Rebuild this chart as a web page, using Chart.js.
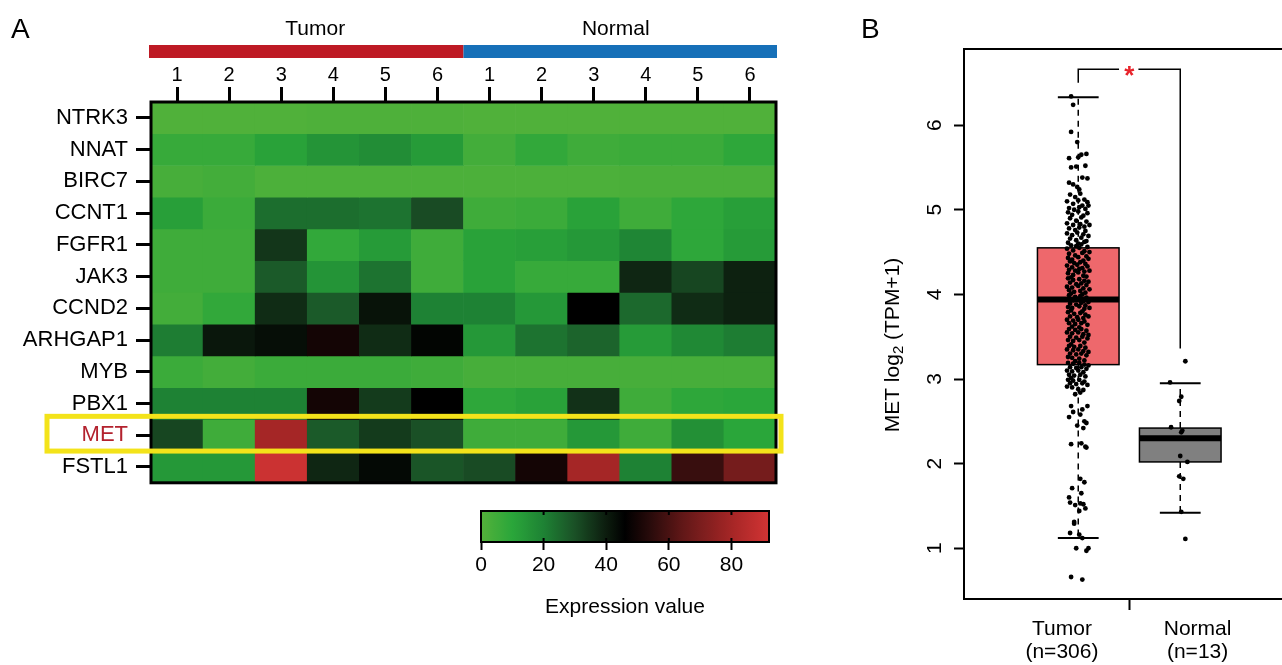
<!DOCTYPE html>
<html>
<head>
<meta charset="utf-8">
<script src="https://cdn.jsdelivr.net/npm/chart.js@4/dist/chart.umd.min.js"></script>
<style>
    html, body { margin: 0; padding: 0; background: #fff; overflow: hidden; width: 1282px; height: 665px; }
    canvas { position: absolute; }
</style>
</head>
<body>
<canvas id="heatmap" width="800" height="504" style="left:0;top:0"></canvas>
<canvas id="colorbar" width="360" height="130" style="left:440px;top:490px"></canvas>
<canvas id="boxplot" width="450" height="665" style="left:850px;top:0"></canvas>
<script>
// ---- Panel A data ----
var geneNames = ['NTRK3', 'NNAT', 'BIRC7', 'CCNT1', 'FGFR1', 'JAK3', 'CCND2', 'ARHGAP1', 'MYB', 'PBX1', 'MET', 'FSTL1'];
var sampleLabels = ['1', '2', '3', '4', '5', '6', '1', '2', '3', '4', '5', '6'];
var groupNames = ['Tumor', 'Normal'];
// expression value per gene (rows) and sample (T1..T6, N1..N6)
var exprNTRK3   = [1, 1, 1, 1.5, 1.5, 1.5, 1, 1, 1, 1, 1, 1];
var exprNNAT    = [7, 7, 11, 15, 17, 13, 4, 8, 5, 6, 6, 9];
var exprBIRC7   = [3, 4, 2, 2, 2, 2, 2, 2, 2, 2.5, 2.5, 2.5];
var exprCCNT1   = [12, 6, 24, 24, 23, 31, 5, 6, 11, 5, 9, 12];
var exprFGFR1   = [5, 5, 35, 8, 13, 5, 11, 12, 14, 19, 9, 13];
var exprJAK3    = [5, 5, 28, 15, 23, 5, 11, 7, 7, 38, 32, 39];
var exprCCND2   = [4, 8, 37, 28, 42, 20, 20, 14, 46, 25, 37, 39];
var exprARHGAP1 = [21, 41, 43, 50, 37, 45, 14, 23, 26, 13, 18, 21];
var exprMYB     = [6, 4, 6, 6, 6, 5, 3, 3, 3, 3, 3, 3];
var exprPBX1    = [20, 20, 20, 50, 34, 46, 9, 11, 36, 5, 9, 10];
var exprMET     = [32, 5, 80, 28, 34, 30, 5, 5, 14, 5, 16, 10];
var exprFSTL1   = [14, 14, 90, 38, 44, 29, 31, 50, 80, 20, 57, 69];
var colorbarMax = 92;
var colorbarStep = 20;

// ---- Panel B data ----
var boxGroups = ['Tumor', 'Normal'];
var boxCounts = [306, 13];
var boxQ1 = [3.17, 2.02];
var boxMedian = [3.94, 2.30];
var boxQ3 = [4.55, 2.42];
var boxLower = [1.12, 1.42];
var boxUpper = [6.33, 2.95];
var yTickValues = [1, 2, 3, 4, 5, 6];
// jittered points: [x offset, value]
var tumorPoints = [
    [-0.07,6.34],[-0.05,6.24],[-0.07,5.92],[-0.01,5.80],[-0.09,5.61],[0.00,5.62],[0.03,5.65],[0.08,5.66],
    [-0.07,5.50],[-0.02,5.51],[0.07,5.52],[0.09,5.37],[-0.09,5.32],[-0.05,5.30],[-0.01,5.27],[0.01,5.24],[0.04,5.38],
    [-0.08,5.18],[-0.03,5.15],[0.02,5.19],[0.06,5.12],[-0.11,5.10],[-0.05,5.07],[0.00,5.11],[0.04,5.05],[0.09,5.09],
    [-0.09,5.02],[-0.04,5.00],[0.01,5.03],[0.07,5.01],[0.10,5.05],
    [-0.10,4.97],[-0.06,4.94],[0.00,4.98],[0.05,4.93],[0.09,4.96],[-0.08,4.90],[-0.02,4.87],[0.03,4.91],[0.08,4.86],
    [-0.11,4.84],[-0.05,4.82],[0.02,4.83],[0.06,4.80],[0.11,4.82],
    [-0.09,4.78],[-0.03,4.76],[0.01,4.79],[0.07,4.75],[-0.11,4.72],[-0.06,4.70],[-0.01,4.73],[0.05,4.71],[0.10,4.69],
    [-0.08,4.66],[-0.02,4.64],[0.03,4.67],[0.08,4.63],[-0.10,4.61],[0.00,4.60],[0.06,4.62],
    [-0.07,4.58],[-0.02,4.57],[0.03,4.59],[0.09,4.56],[-0.11,4.54],[-0.05,4.52],[0.01,4.55],[0.06,4.51],[0.11,4.50],
    [-0.09,4.48],[-0.03,4.46],[0.04,4.49],[0.08,4.45],[-0.10,4.43],[-0.06,4.41],[0.00,4.44],[0.05,4.40],[0.10,4.42],
    [-0.08,4.39],[-0.04,4.37],[0.02,4.38],[0.07,4.36],[-0.11,4.34],[-0.06,4.32],[-0.01,4.35],[0.04,4.31],[0.09,4.33],
    [-0.09,4.29],[-0.03,4.28],[0.01,4.30],[0.06,4.27],[0.11,4.28],[-0.10,4.25],[-0.05,4.23],[0.00,4.26],[0.05,4.22],
    [0.08,4.21],[-0.07,4.20],
    [-0.10,4.19],[-0.05,4.17],[0.01,4.18],[0.06,4.16],[0.10,4.15],[-0.08,4.14],[-0.02,4.12],[0.03,4.13],[0.08,4.11],
    [-0.11,4.09],[-0.06,4.08],[0.00,4.10],[0.05,4.07],[0.11,4.06],[-0.09,4.05],[-0.04,4.03],[0.02,4.04],[0.07,4.02],
    [-0.07,4.01],[0.04,4.00],
    [-0.09,3.99],[-0.03,3.97],[0.02,3.98],[0.08,3.96],[-0.11,3.94],[-0.05,3.93],[0.00,3.95],[0.05,3.92],[0.10,3.91],
    [-0.08,3.89],[-0.02,3.88],[0.03,3.90],[0.07,3.87],[-0.10,3.85],[-0.06,3.84],[0.01,3.86],[0.06,3.83],[0.11,3.84],
    [-0.07,3.81],[0.04,3.80],
    [-0.10,3.79],[-0.04,3.77],[0.02,3.78],[0.07,3.76],[-0.08,3.74],[-0.01,3.73],[0.05,3.72],[0.10,3.74],[-0.11,3.70],
    [-0.05,3.69],[0.00,3.70],[0.06,3.68],[-0.09,3.66],[-0.03,3.65],[0.03,3.66],[0.09,3.64],[-0.06,3.62],[0.01,3.61],
    [-0.09,3.59],[-0.03,3.58],[0.03,3.59],[0.08,3.57],[-0.11,3.55],[-0.06,3.54],[0.00,3.55],[0.05,3.53],[0.10,3.52],
    [-0.08,3.50],[-0.02,3.49],[0.04,3.50],[0.09,3.48],[-0.10,3.46],[-0.05,3.45],[0.01,3.46],[0.06,3.43],[-0.07,3.41],
    [-0.09,3.39],[-0.04,3.38],[0.02,3.39],[0.07,3.37],[-0.11,3.35],[-0.05,3.34],[0.00,3.35],[0.05,3.33],[0.10,3.32],
    [-0.08,3.30],[-0.02,3.29],[0.03,3.30],[0.08,3.28],[-0.10,3.26],[-0.06,3.25],[0.01,3.24],[0.06,3.22],[-0.03,3.21],
    [-0.10,3.19],[-0.05,3.18],[0.01,3.19],[0.06,3.17],[0.10,3.16],[-0.08,3.14],[-0.02,3.13],[0.03,3.14],[0.08,3.12],
    [-0.11,3.10],[-0.06,3.09],[0.00,3.10],[0.05,3.08],[-0.09,3.05],[-0.04,3.04],[0.02,3.05],[0.07,3.03],[-0.07,3.01],
    [-0.10,2.99],[-0.05,2.98],[0.01,2.99],[0.06,2.97],[-0.08,2.95],[-0.02,2.94],[0.04,2.95],[0.09,2.93],[-0.11,2.91],
    [-0.06,2.90],[0.00,2.88],[0.05,2.87],[0.02,2.84],[-0.03,2.82],
    [-0.07,2.68],[0.09,2.68],[-0.05,2.61],[0.02,2.58],[0.06,2.50],[0.08,2.48],[-0.01,2.45],[-0.09,2.55],[0.05,2.42],[0.04,2.64],
    [-0.07,2.23],[0.03,2.24],[0.08,2.19],[0.07,2.20],
    [0.02,1.82],[0.06,1.78],[-0.06,1.71],[0.03,1.65],[-0.09,1.60],[-0.08,1.54],[-0.03,1.51],[0.02,1.53],[0.05,1.52],
    [0.07,1.47],[0.01,1.44],[-0.04,1.31],[-0.04,1.29],[-0.08,1.18],[0.01,1.16],[0.04,1.12],[-0.02,1.00],[0.08,0.97],
    [0.10,1.00],[-0.07,0.66],[0.04,0.63]
];
var normalPoints = [
    [0.05,3.21],[-0.10,2.96],[0.01,2.79],[-0.01,2.74],[-0.09,2.43],[0.02,2.39],[0.01,2.37],
    [0.00,2.09],[0.07,2.02],[-0.01,1.85],[0.03,1.82],[0.01,1.43],[0.05,1.11]
];
var bracketY = 6.66;

(function() {
    'use strict';

    var FONT = "'Liberation Sans', Arial, Helvetica, sans-serif";
    Chart.defaults.font.family = FONT;
    Chart.defaults.color = '#000';

    // green -> black -> red palette of the heatmap
    var colorStops = [
        [0, [84, 178, 58]], [10, [42, 166, 58]], [20, [30, 130, 52]], [30, [26, 80, 38]],
        [40, [12, 28, 14]], [46, [0, 0, 0]], [55, [45, 12, 12]], [65, [100, 24, 24]],
        [80, [165, 38, 38]], [92, [210, 52, 52]]
    ];

    var Figure = {
        init: function() {
            this.initHeatmap();
            this.initColorBar();
            this.initBoxplot();
        },

        exprColor: function(v) {
            for (var i = 1; i < colorStops.length; i++) {
                if (v <= colorStops[i][0] || i === colorStops.length - 1) {
                    var a = colorStops[i - 1], b = colorStops[i];
                    var t = Math.max(0, Math.min(1, (v - a[0]) / (b[0] - a[0])));
                    var c = [0, 1, 2].map(function(k) { return Math.round(a[1][k] + (b[1][k] - a[1][k]) * t); });
                    return 'rgb(' + c.join(',') + ')';
                }
            }
        },

        /**
         * Panel A: heatmap as floating bars, one dataset per gene row
         */
        initHeatmap: function() {
            var self = this;
            var rows = [exprNTRK3, exprNNAT, exprBIRC7, exprCCNT1, exprFGFR1, exprJAK3,
                        exprCCND2, exprARHGAP1, exprMYB, exprPBX1, exprMET, exprFSTL1];

            var datasets = rows.map(function(vals, r) {
                return {
                    label: geneNames[r],
                    data: vals.map(function() { return [r, r + 1]; }),
                    backgroundColor: vals.map(function(v) { return self.exprColor(v); }),
                    borderWidth: 0,
                    barPercentage: 1,
                    categoryPercentage: 1,
                    grouped: false
                };
            });

            var deco = {
                id: 'heatDeco',
                afterDraw: function(chart) {
                    var ctx = chart.ctx, a = chart.chartArea;
                    var xs = chart.scales.x, ys = chart.scales.y;
                    var mid = (xs.getPixelForValue(5) + xs.getPixelForValue(6)) / 2;
                    ctx.save();
                    // frame
                    ctx.strokeStyle = '#000';
                    ctx.lineWidth = 3;
                    ctx.strokeRect(a.left, a.top, a.right - a.left, a.bottom - a.top);
                    // group bars
                    ctx.fillStyle = '#be1a24';
                    ctx.fillRect(a.left - 2, 45, mid - a.left + 2, 13);
                    ctx.fillStyle = '#1670b8';
                    ctx.fillRect(mid, 45, a.right - mid + 1, 13);
                    ctx.fillStyle = '#000';
                    ctx.font = '21px ' + FONT;
                    ctx.textAlign = 'center';
                    ctx.textBaseline = 'middle';
                    ctx.fillText(groupNames[0], (a.left + mid) / 2 + 8, 29);
                    ctx.fillText(groupNames[1], (mid + a.right) / 2 - 4, 29);
                    // highlight MET row
                    var r = geneNames.indexOf('MET');
                    var top = ys.getPixelForValue(r), bot = ys.getPixelForValue(r + 1);
                    ctx.strokeStyle = '#f3e31a';
                    ctx.lineWidth = 5;
                    ctx.strokeRect(47, top - 3, a.right + 5 - 47, bot - top + 3);
                    // panel letter
                    ctx.font = '28px ' + FONT;
                    ctx.textAlign = 'left';
                    ctx.textBaseline = 'alphabetic';
                    ctx.fillText('A', 11, 38);
                    ctx.restore();
                }
            };

            new Chart(document.getElementById('heatmap'), {
                type: 'bar',
                data: { labels: sampleLabels, datasets: datasets },
                plugins: [deco],
                options: {
                    responsive: false,
                    animation: false,
                    layout: { padding: { left: 0, top: 0, right: 24, bottom: 0 } },
                    plugins: { legend: { display: false }, tooltip: { enabled: false } },
                    scales: {
                        x: {
                            position: 'top',
                            grid: { offset: false, drawOnChartArea: false, tickLength: 15, tickWidth: 3, tickColor: '#000' },
                            border: { display: false },
                            ticks: { font: { size: 20 }, color: '#000', padding: 0, maxRotation: 0, autoSkip: false },
                            afterFit: function(s) { s.height = 102; }
                        },
                        y: {
                            type: 'linear',
                            reverse: true,
                            min: 0,
                            max: geneNames.length,
                            afterBuildTicks: function(s) {
                                s.ticks = geneNames.map(function(g, i) { return { value: i + 0.5 }; });
                            },
                            grid: { drawOnChartArea: false, tickLength: 15, tickWidth: 3, tickColor: '#000' },
                            border: { display: false },
                            ticks: {
                                autoSkip: false,
                                padding: 8,
                                font: { size: 22 },
                                color: function(c) {
                                    return c.tick && geneNames[Math.floor(c.tick.value)] === 'MET' ? '#b3222e' : '#000';
                                },
                                callback: function(v) { return geneNames[Math.floor(v)]; }
                            },
                            afterFit: function(s) { s.width = 151; }
                        }
                    }
                }
            });
        },

        /**
         * Colour key under the heatmap
         */
        initColorBar: function() {
            var self = this;
            var grad = {
                id: 'gradient',
                beforeDatasetsDraw: function(chart) {
                    var ctx = chart.ctx, a = chart.chartArea, xs = chart.scales.x;
                    var g = ctx.createLinearGradient(a.left, 0, a.right, 0);
                    for (var v = 0; v <= colorbarMax; v += 2) {
                        g.addColorStop(v / colorbarMax, self.exprColor(v));
                    }
                    ctx.save();
                    ctx.fillStyle = g;
                    ctx.fillRect(a.left, a.top, a.right - a.left, a.bottom - a.top);
                    ctx.strokeStyle = '#000';
                    ctx.lineWidth = 2;
                    xs.ticks.forEach(function(t) {
                        var px = xs.getPixelForValue(t.value);
                        ctx.beginPath();
                        ctx.moveTo(px, a.top); ctx.lineTo(px, a.top + 4);
                        ctx.moveTo(px, a.bottom); ctx.lineTo(px, a.bottom - 4);
                        ctx.stroke();
                    });
                    ctx.strokeRect(a.left, a.top, a.right - a.left, a.bottom - a.top);
                    ctx.restore();
                }
            };

            new Chart(document.getElementById('colorbar'), {
                type: 'scatter',
                data: { datasets: [{ data: [] }] },
                plugins: [grad],
                options: {
                    responsive: false,
                    animation: false,
                    layout: { padding: { left: 41, right: 31, top: 21, bottom: 0 } },
                    plugins: { legend: { display: false }, tooltip: { enabled: false } },
                    scales: {
                        x: {
                            type: 'linear',
                            min: 0,
                            max: colorbarMax,
                            ticks: { stepSize: colorbarStep, includeBounds: false, font: { size: 21 }, color: '#000', padding: 3 },
                            grid: { drawOnChartArea: false, tickLength: 8, tickWidth: 2, tickColor: '#000' },
                            border: { display: false },
                            title: { display: true, text: 'Expression value', font: { size: 21 }, color: '#000', padding: { top: 7, bottom: 0 } },
                            afterFit: function(s) { s.height = 78; }
                        },
                        y: { display: false, min: 0, max: 1 }
                    }
                }
            });
        },

        /**
         * Panel B: box plot with jittered samples
         */
        initBoxplot: function() {
            var boxFill = ['rgb(238,104,108)', 'rgb(128,128,128)'];

            var boxes = {
                id: 'boxes',
                beforeDatasetsDraw: function(chart) {
                    var ctx = chart.ctx, xs = chart.scales.x, ys = chart.scales.y;
                    ctx.save();
                    ctx.strokeStyle = '#000';
                    boxGroups.forEach(function(g, i) {
                        var pos = i + 1;
                        var cx = xs.getPixelForValue(pos);
                        var bl = xs.getPixelForValue(pos - 0.4), br = xs.getPixelForValue(pos + 0.4);
                        var cl = xs.getPixelForValue(pos - 0.2), cr = xs.getPixelForValue(pos + 0.2);
                        var q1 = ys.getPixelForValue(boxQ1[i]), q3 = ys.getPixelForValue(boxQ3[i]);
                        var md = ys.getPixelForValue(boxMedian[i]);
                        var lo = ys.getPixelForValue(boxLower[i]), hi = ys.getPixelForValue(boxUpper[i]);
                        // whiskers
                        ctx.lineWidth = 1.5;
                        ctx.setLineDash([6, 5]);
                        ctx.beginPath();
                        ctx.moveTo(cx, q3); ctx.lineTo(cx, hi);
                        ctx.moveTo(cx, q1); ctx.lineTo(cx, lo);
                        ctx.stroke();
                        ctx.setLineDash([]);
                        ctx.lineWidth = 2;
                        ctx.beginPath();
                        ctx.moveTo(cl, hi); ctx.lineTo(cr, hi);
                        ctx.moveTo(cl, lo); ctx.lineTo(cr, lo);
                        ctx.stroke();
                        // box
                        ctx.fillStyle = boxFill[i];
                        ctx.fillRect(bl, q3, br - bl, q1 - q3);
                        ctx.lineWidth = 1.5;
                        ctx.strokeRect(bl, q3, br - bl, q1 - q3);
                        ctx.lineWidth = 6;
                        ctx.beginPath();
                        ctx.moveTo(bl, md); ctx.lineTo(br, md);
                        ctx.stroke();
                    });
                    ctx.restore();
                },
                afterDraw: function(chart) {
                    var ctx = chart.ctx, a = chart.chartArea, xs = chart.scales.x, ys = chart.scales.y;
                    ctx.save();
                    ctx.strokeStyle = '#000';
                    ctx.lineWidth = 2;
                    ctx.strokeRect(a.left, a.top, a.right - a.left + 20, a.bottom - a.top);
                    // significance bracket
                    var by = ys.getPixelForValue(bracketY);
                    ctx.lineWidth = 1.5;
                    ctx.beginPath();
                    ctx.moveTo(xs.getPixelForValue(1), ys.getPixelForValue(6.5));
                    ctx.lineTo(xs.getPixelForValue(1), by);
                    ctx.lineTo(xs.getPixelForValue(1.4), by);
                    ctx.moveTo(xs.getPixelForValue(1.59), by);
                    ctx.lineTo(xs.getPixelForValue(2), by);
                    ctx.lineTo(xs.getPixelForValue(2), ys.getPixelForValue(3.36));
                    ctx.stroke();
                    ctx.fillStyle = '#e8232a';
                    ctx.font = 'bold 26px ' + FONT;
                    ctx.textAlign = 'center';
                    ctx.textBaseline = 'middle';
                    ctx.fillText('*', xs.getPixelForValue(1.5), by + 8);
                    // axis title with subscript
                    ctx.fillStyle = '#000';
                    ctx.translate(43, 345);
                    ctx.rotate(-Math.PI / 2);
                    var big = '21px ' + FONT, small = '15px ' + FONT;
                    ctx.font = big;
                    var p1 = 'MET log', p3 = ' (TPM+1)';
                    var w1 = ctx.measureText(p1).width, w3 = ctx.measureText(p3).width;
                    ctx.font = small;
                    var w2 = ctx.measureText('2').width;
                    var x0 = -(w1 + w2 + w3) / 2;
                    ctx.textAlign = 'left';
                    ctx.font = big;
                    ctx.fillText(p1, x0, 0);
                    ctx.font = small;
                    ctx.fillText('2', x0 + w1, 6);
                    ctx.font = big;
                    ctx.fillText(p3, x0 + w1 + w2, 0);
                    ctx.restore();
                    // panel letter
                    ctx.save();
                    ctx.fillStyle = '#000';
                    ctx.font = '28px ' + FONT;
                    ctx.fillText('B', 11, 38);
                    ctx.restore();
                }
            };

            var xTicks = [0.84, 1.5, 2.17];

            new Chart(document.getElementById('boxplot'), {
                type: 'scatter',
                data: {
                    datasets: [
                        { data: tumorPoints.map(function(p) { return { x: 1 + p[0], y: p[1] }; }) },
                        { data: normalPoints.map(function(p) { return { x: 2 + p[0], y: p[1] }; }) }
                    ]
                },
                plugins: [boxes],
                options: {
                    responsive: false,
                    animation: false,
                    layout: { padding: { left: 0, top: 49, right: 5, bottom: 0 } },
                    elements: { point: { radius: 2.4, backgroundColor: '#000', borderWidth: 0 } },
                    plugins: { legend: { display: false }, tooltip: { enabled: false } },
                    scales: {
                        x: {
                            type: 'linear',
                            min: -0.12,
                            max: 3.125,
                            afterBuildTicks: function(s) {
                                s.ticks = xTicks.map(function(v) { return { value: v }; });
                            },
                            ticks: {
                                autoSkip: false,
                                maxRotation: 0,
                                font: { size: 21, lineHeight: 1.1 },
                                color: '#000',
                                padding: 8,
                                callback: function(v, i) {
                                    if (i === 0) return [boxGroups[0], '(n=' + boxCounts[0] + ')'];
                                    if (i === 2) return [boxGroups[1], '(n=' + boxCounts[1] + ')'];
                                    return '';
                                }
                            },
                            grid: {
                                drawOnChartArea: false, tickLength: 11, tickWidth: 2,
                                tickColor: function(c) { return c.tick && c.tick.value === 1.5 ? '#000' : 'rgba(0,0,0,0)'; }
                            },
                            border: { display: false },
                            afterFit: function(s) { s.height = 66; }
                        },
                        y: {
                            type: 'linear',
                            min: 0.4,
                            max: 6.9,
                            afterBuildTicks: function(s) {
                                s.ticks = yTickValues.map(function(v) { return { value: v }; });
                            },
                            ticks: { font: { size: 21 }, color: '#000', minRotation: 90, maxRotation: 90, crossAlign: 'center', padding: 13 },
                            grid: { drawOnChartArea: false, tickLength: 10, tickWidth: 2, tickColor: '#000' },
                            border: { display: false },
                            afterFit: function(s) { s.width = 114; }
                        }
                    }
                }
            });
        }
    };

    Figure.init();
})();
</script>
</body>
</html>
